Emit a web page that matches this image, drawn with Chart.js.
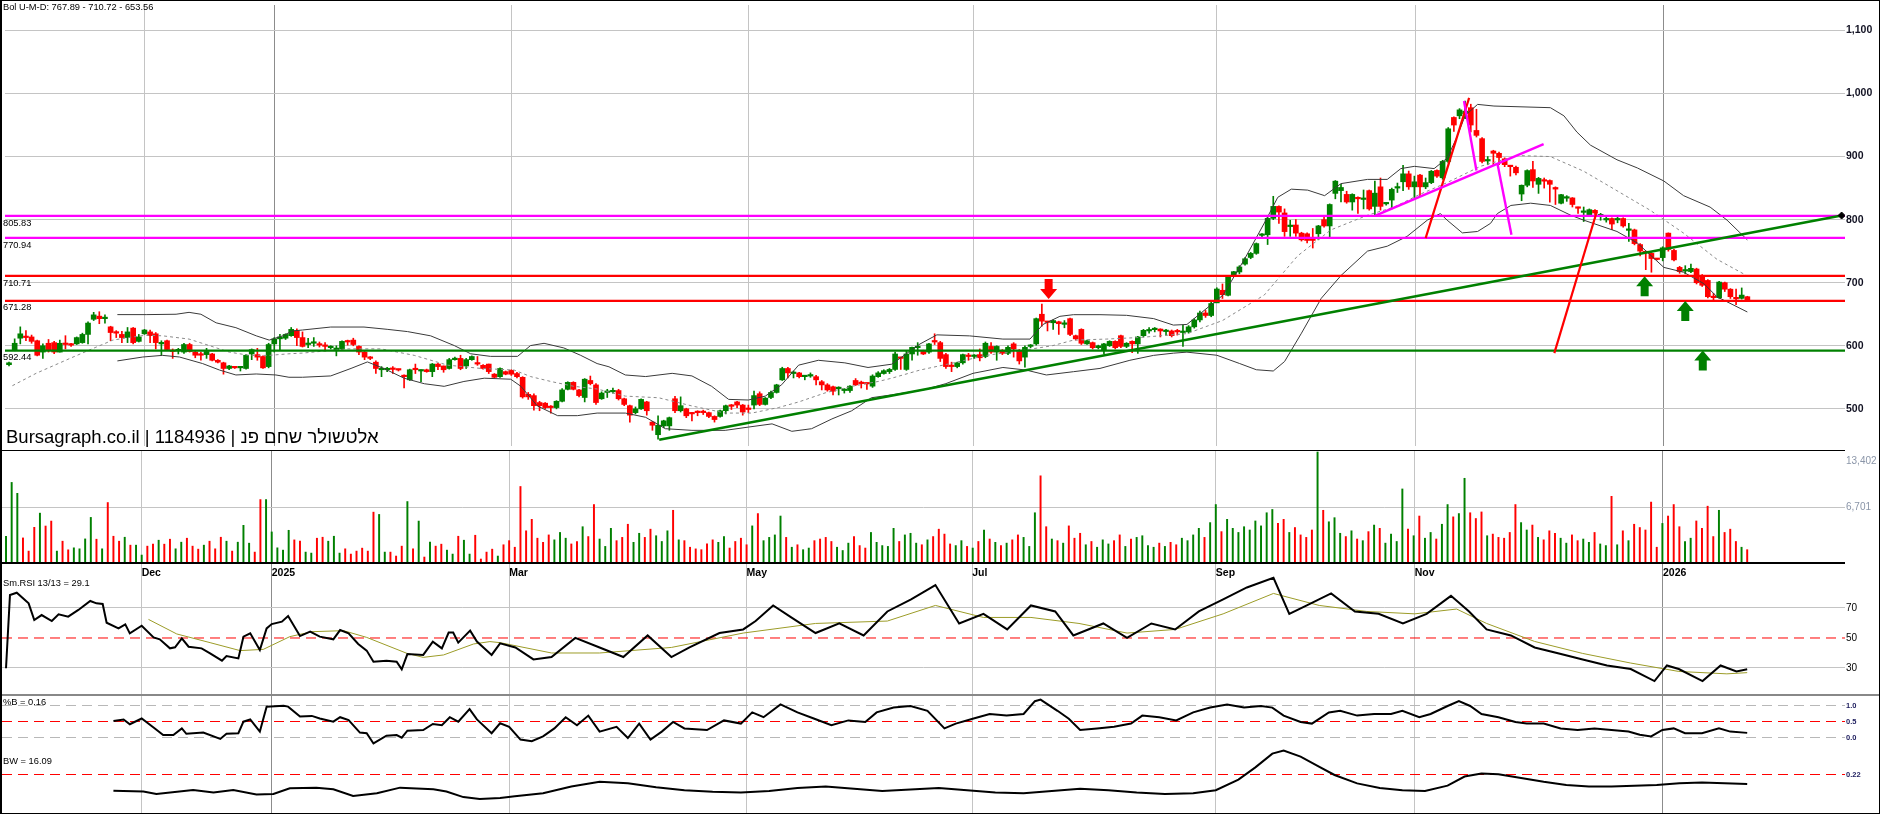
<!DOCTYPE html>
<html><head><meta charset="utf-8">
<script src="https://cdn.jsdelivr.net/npm/chart.js@4.4.1/dist/chart.umd.min.js"></script>
<style>
html,body{margin:0;padding:0;background:#fff;}
#wrap{position:relative;width:1880px;height:814px;overflow:hidden;background:#fff;}
#wrap canvas{position:absolute;left:0;}
.sep{position:absolute;left:0;}
#frame{position:absolute;left:0;top:0;width:1880px;height:814px;box-sizing:border-box;border:1px solid #000;border-left-width:2px;pointer-events:none;}
</style></head><body>
<div id="wrap">
<canvas id="cMain" width="1880" height="451" style="top:0"></canvas>
<canvas id="cVol" width="1880" height="111" style="top:451px"></canvas>
<canvas id="cRsi" width="1880" height="131" style="top:564px"></canvas>
<canvas id="cPB" width="1880" height="117" style="top:696px"></canvas>
<canvas id="cBW" width="1880" height="117" style="top:696px"></canvas>
<div class="sep" style="top:450px;width:1845px;height:1px;background:#000"></div>
<div class="sep" style="top:562px;width:1845px;height:2px;background:#000"></div>
<div class="sep" style="top:694px;width:1880px;height:2px;background:#888"></div>
<div id="frame"></div>
</div>
<script>
// ---------------- DATA ----------------
const OPEN = [
570,593,612,615,614,608,590,604,605,590,
604,603,603,605,618,642,647,643,630,622,
618,613,628,607,619,622,619,603,608,593,
592,590,602,590,587,586,587,577,573,564,
567,565,564,587,586,583,567,603,611,612,
616,624,613,602,604,603,600,597,594,595,
608,609,599,590,582,574,562,562,563.5,562.5,
552,546,563,560,562,559,571,568,564,578,
580,568,578,572,569,571,555,551,559,561,
556,550,523,521,510,509,503,502,512,531,
542,530,518,545,538,516,526,527,529,516,
505,494,500,511,479,459,473,473,516,497,
500,493,495,495,494,488,488,497,505,511,
506,500,506,524,507,518,526,546,564,556,
557,551,552,551,543,538,535,532,529,529,
545,542,540,536,551,556,559,562.5,581,562.5,
587,597,591,590,607,605,586,568,567,573,
584,583,586,583,599,590,592.5,588,603,592.5,
582,599,603,650,637.5,636.5,638,634,643,616,
626,603,605,597,593.5,600,607,616,599,607,
603,616,623.5,625.5,626.5,622.5,623.5,623,621,622,
630,641,652,648,668,688,680,711,717,729.5,
740,746.5,775,776,802,821,810.6,789,791.5,778.6,
777.6,768,777.6,800,790,841.6,846,840,828,834.4,
832,846,821,852,825,831,850,860,872.6,852,
870.6,852,858.7,878,866.4,892.3,962,964.6,968,977.5,
941.4,928.4,893,908.8,905.2,896.4,885,883,840.6,854.5,
879.3,856,862,862,851,826,834,834.4,819,811.5,
807,814.8,806,799.5,801.8,799.5,801.8,783,783.7,760.5,
748.5,746.5,737.7,739.8,778.6,751.2,724.3,718.5,717.6,721.7,
711.4,703.6,677.3,676.3,700,689.7,675.2,675.2,677.8];
const HIGH = [
574,611,630,624,617,609,603,610,607,609,
616,604,614,620,638,653,654,649,631,624,
623,629,629,618,626,625,621,608,609,595,
596,604,604,592,590,596,588,578,574,569,
567,567,586,595,596,584,604,613,618,619,
629,627,622,612,613,606,605,600,600,608,
609,612,600,591,583,576,567,566,567,563,
554,563,571,562,563,572,572,568,580,582,
585,580,584,583,570,571,556,565,560,562,
558,551,526,524,512,510,505,513,532,543,
543,531,548,552,540,527,531,533,531,517,
506,503,516,512,480,489,482,487,520,519,
501,494,497,498,495,489,498,506,507,512,
507,506,528,527,518,528,539,566,566,560,
558,553,557,553,545,540,536,535,532,537,
548,544,541,554,559,562,564,590,582,592,
598,605,593,604,619,607,588,574,574,587,
588,586,595,606,605,600,594,600,605,594,
600,602,644,666,638,641,639,640,644,617,
627,609,606,601,604,608,608,617,605,608,
615,626,629,629,627,626,625,626,633,632,
643,655,656,670,692,698,710,718,727,740,
748,763,778,805,837,822,817,799,800,780,
779,786,791,807,825,862,856,845,841,836,
847,847,861,866,827,850,858,886,877,869,
872,866,878,879,894,946,963,976,988,983,
975,930,900,910,907,898,886,885,855,879,
892.3,867,866,863,852,840,838,835,820,820,
817,816,810,804,803,804,803,794,785,762,
750,748,738,757,779,753,726,727,729.5,723,
713,705,683,702,701,690.7,690,691.7,678.5];
const LOW = [
568,592,603,608,604,584,580,590,587.5,590,
595,599,602,604,603,640,635,636,608,613,
605,605,603,606,618,605,595,585,593,580,
587,588,590,581,577,580,576,573,555,562,
564,560,563,578,577,564,565,590,593,610,
615,600,598,597,599,598,592,595,584,593,
601,600,586,578,578,556,551,559,556,560,
533,545,556,543,558,551,562,558,563,577,
562,564,577,569,563,556,549,550,554,553,
549,517,515,498,497,500,493,500,511,530,
530,519,511,538,507,515,518,525,514,505,
479,492,499,490,466,452,470,466,494,495,
486,481,489,491,486,479,487,492,499,502,
490,494,500,505,506,516,525,545,549,549,
549,546,550,538,530,528,522,522,525,526,
537,533,531,534,550,555,556,561,562.5,561,
577,585,586,588,602,575,564,559,565,571,
577,580,576,581,588,577,586,586,582,571,
566,597,601,631,623.5,626,618,628.5,616,609,
602,602,595,595,587,599,595,597,597,589,
588,614,620,622,614,617,614,617,599,620,
628,638,645,646,672,675,679,710,714,728,
738,745,770,760.5,800,794,773.4,773.4,773.4,766,
763,755,768,788,773,833,828,826,815,810,
817,815,805,815,823,817,843,846,848,835,
838,849,857,867,864,890,940,960,960,939,
931,890,887,887,887,884,869,871,830,852,
851,841.6,850,827.7,824,825,829,820,810,797,
806,802,799,796,784,795,788,765.6,760,742.4,
720.7,716.6,736,734.6,750,734.6,715,714,716,698,
694,676,672.6,675,686,675,665,674,672];
const CLOSE = [
573,604,619,613,607,585,600,593,590,604,
602,601,613,618,636,649,643,645,621,620,
613,622,605,614,625,616,605,604,594,591,
593,602,591,585,585,591,577,574,564,568,
565,566,585,594,582,565,602,611,614,618,
626,613,599,603,606,601,599,598,596,607,
606,602,590,582,580,564,563,563.5,562.5,561.5,
551,562,562,561,559,571,567,562,578,580,
564,578,583,571,564,559,550,564,555,555,
551,519,519,505,505,502,502,512,530,542,
531,521,547,540,510,525,527,529,516,507,
490,500,515,497,474,474,481,486,497,505,
489,492,494,494,488,483,497,505,504,506,
495,499,521,507,517,526,538,564,557,557,
551,552,554,546,538,530,528,533,530.5,536,
538,540,539.5,552,557,560.5,562.5,587,580,587,
597.5,598,587,603,606,580,567,567,573,586,
583,584.5,581,604,590,599,588,597.5,595,576,
597.5,601,643,639,637,640,635,635,618,611,
604,608,597,600,603,607,597,599,604,603,
614,624.5,624.5,626.5,623.5,623.5,616,622,622,630,
641,652,648,667,690,681,709,717.5,725,738,
746.5,762,776,802,821,812,781,790,778.6,768,
767,767,790,790,824,861,851,828,840,833,
833,817,842,821,826,848,851,872.6,852,860,
852,858.7,876.7,869,892.3,944,950,974,972,950,
933.6,892.3,894,905.2,898.5,887.1,884,874.2,854.5,877.8,
861.3,865.4,861,856,848.4,839.6,835,824,818,812.5,
815.8,810.6,807,800.3,793,800.5,790,784,762,750.1,
747.5,738.3,736.8,755.3,752.7,736.2,717.6,719.5,722.8,700,
695.9,677.8,676.3,701,689.7,677.8,674.4,680.4,672.6];
const VOLUME = [
3139,9695,8368,2934,1328,4226,5953,4383,4987,1328,
2535,1485,1727,1606,2813,5433,2777,1606,7244,3139,
2535,3018,2053,2053,845,1932,2173,2656,2173,2777,
1606,2415,2898,1932,1566,2053,2535,1606,3018,2535,
1328,2415,4467,2294,1207,7606,7606,3663,1727,1447,
3864,2695,2535,1207,1086,2898,3018,2535,3139,1086,
1606,965,1328,1690,1328,6074,5795,1207,1207,724,
1932,7365,1606,4987,604,2415,1932,2173,1447,965,
3139,2656,965,3260,362,1207,1566,724,2100,2600,
1800,9200,3800,5200,2900,2400,3300,2700,3600,2900,
2200,2500,4300,3100,7000,2800,1900,4100,2600,3000,
4600,2400,3500,3000,4000,3200,2500,3800,6300,2700,
2600,1800,1600,1500,2200,2700,2400,3100,1700,2500,
2900,2100,4400,5900,2600,3000,3300,5600,3000,1800,
2100,1500,1700,2600,2800,3000,2500,1800,1400,2300,
3100,2000,1700,3600,2400,2000,1900,4100,2500,3300,
3500,2300,2100,2700,3100,4000,3400,2200,2000,2600,
1900,1700,2500,3900,2800,2400,2000,2300,2700,3300,
3000,1900,6000,10500,4300,2800,2600,2300,4400,2900,
3500,2100,2500,1800,2700,2200,2600,3300,1900,2800,
3000,3200,2000,1800,2300,1900,2400,2100,2900,2600,
3300,4100,3000,4800,7000,3700,5200,4100,3600,4300,
3900,5000,4400,6000,6400,4700,5200,3600,4200,3300,
3000,3900,13402,6300,4900,5400,3500,3100,3800,2800,
2600,3700,4500,4100,2300,3400,2500,8900,4000,3200,
5600,2900,3600,2800,4600,7000,5500,5900,10200,6000,
5300,6100,3200,3400,3000,2900,3600,7000,4800,3900,
4500,3000,2700,3800,3500,2900,2300,3300,2600,2800,
2400,3600,2200,2000,8000,2100,3800,2600,4600,4200,
3900,7300,1800,4700,5600,7000,4300,2500,2900,5000,
4100,6800,3100,6300,3600,4000,2500,1800,1500];

// Bollinger bands [candle index, value]
const BB_UPPER = [[19.2,649.4],[24.3,649.4],[29.6,650],[31.9,653],[34,650],[36.7,636.4],[40.2,628.7],[43.8,615.8],[46.1,609],[48.5,615.8],[50.2,623.5],[52,625],[57,629.7],[62.9,629.7],[67,626.1],[70.6,622.5],[74.7,615.8],[78.9,600.3],[81.8,587.3],[85.3,583.2],[90.1,583.2],[92.4,600.3],[94.8,603.9],[98.3,596.6],[101.3,584.8],[104.2,571.8],[106.3,566.7],[109.2,553.7],[112.8,551.2],[117.5,556.3],[121,552.2],[124.5,535.7],[127.5,515],[131,514],[134,520.2],[136.9,538.2],[139.9,569.3],[143.4,577],[148.1,572.9],[152.2,565.6],[156.4,570.8],[161.4,602.8],[164.4,617.3],[170.2,615.7],[176.1,610.6],[180.9,610.6],[183.2,633.8],[186.2,646.7],[188.6,649.3],[193.3,649.3],[198,648.3],[202.8,643.1],[206.3,632.8],[208.7,633.8],[215.1,680.4],[218.9,737.2],[222.7,799.2],[224.8,835.4],[227.2,848.3],[230.1,846.8],[233.1,838],[236,857.1],[240.7,863.8],[244.2,863.8],[246.6,880.9],[249,884.5],[252.5,880.9],[254.8,897.4],[256.5,930],[258,965],[260.2,982.7],[263.1,980.1],[273.1,977.5],[275.5,964.6],[277.8,938.8],[280.2,918.1],[284.9,894.9],[288.5,882],[293.2,861.3],[296.7,838],[301.4,819.9],[304.4,799.2],[308,767.89]];
const BB_LOWER = [[19.2,576],[23.7,582.2],[27.2,584.8],[30.2,582.2],[34.3,571.8],[37.3,561.5],[40.2,553.7],[43.8,555.3],[47.3,553.7],[49.6,550.1],[52,550.1],[57,552.2],[60.6,564.1],[63.5,574.4],[66.4,564.1],[70,548.6],[73.6,539.8],[77.1,535.7],[80.6,543.4],[84.2,548.6],[88.9,547],[90.7,535.7],[93.6,504.7],[97.2,489.2],[100.7,489.2],[104.2,493.3],[109.2,493.3],[112.8,486.6],[116.3,468.5],[121,465.9],[126.9,465.9],[131,471.1],[135.2,476.2],[138.7,464.4],[142.2,468.5],[145.8,484],[149.3,496.9],[152.8,517.6],[156.4,522.2],[162,530],[166,540],[170.8,556.3],[176.1,565.6],[180.2,561.5],[183.8,553.7],[188.6,558.9],[193.3,564.1],[198.6,577],[202.8,584.8],[206.3,588.3],[208.7,589.9],[214,585],[218,572],[221,562],[224,560],[226,575],[229,620],[232.5,675.2],[236,711.4],[240.7,750.1],[244.2,757.9],[247.7,773.4],[251.3,799.2],[253.6,809.6],[254.8,799.2],[257.5,779],[260.2,781.2],[262.5,794.1],[263.7,809.6],[266.1,822.5],[269.6,826.1],[273.1,822.5],[276.7,807],[279,799.2],[284.9,781.2],[288.5,763],[293.2,724.3],[296.7,716.6],[300.3,698.5],[302.6,677.8],[308,653.56]];
const BB_MID = [[0.6,536.7],[4.8,556.3],[10.7,579.6],[15.4,597.7],[18.4,609],[21.3,613.2],[24.3,616.8],[27.2,615.8],[31.9,610.6],[35.5,600.3],[39,590],[42.6,584.8],[46.1,584.8],[49.6,587.3],[52,588.4],[60,595.1],[65.9,595.1],[71.8,584.8],[77.7,569.3],[83.6,564.1],[89.5,561.5],[92.4,551.2],[96,543.4],[100.1,535.7],[104.2,531.5],[109.2,520.2],[115.1,517.6],[121,504.6],[126.9,493.3],[131.6,493.3],[136.3,502],[139.9,510.9],[144.6,525.3],[149.3,535.7],[154,543.4],[156.4,548.6],[161.4,561.5],[167.3,572.8],[173.2,584.8],[180.2,593.5],[184.9,600.2],[188.6,609],[194.4,610.6],[200.4,613.2],[208.7,619.3],[215,640],[222.4,680.4],[228.3,742.4],[234.2,783.7],[240.7,807],[245.4,819.9],[250.1,840.6],[254.8,858.7],[260.7,884.5],[267.3,901.6],[273.1,900],[279,876.8],[284.9,845.8],[290.8,814.8],[296.7,778.6],[302.6,737.2],[308,710.72]];

const LEVELS = [805.83, 770.94, 710.71, 671.28, 592.44];
const TREND_GREEN = [[115.2,451],[324.7,806.5]];
const TREND_MAGENTA = [[[242.2,806.9],[271.9,919.7]],[[257.8,988],[260.0,877.8]],[[263.7,889.7],[266.2,776]]];
const TREND_RED = [[[251.0,770.8],[258.7,993]],[[273.8,588.4],[281.3,812.1]]];
const ARROWS_DOWN = [[184.2,674]];
const ARROWS_UP = [[289.8,710.4],[297.0,671.0],[300.1,592.6]];

const RSI = [[0,29.8],[0.7,78.7],[1.9,80.2],[4,73.1],[5,62],[6.3,65.3],[8.1,61.3],[9.3,65.8],[11,64.2],[12.8,68.7],[14.9,74.7],[16,73.1],[17.1,72.7],[17.8,60.2],[19.9,56.4],[21.1,59.1],[21.9,53.1],[24,58.2],[26.1,50.4],[27.2,49.1],[29,43.1],[29.9,43.8],[31.1,49.8],[32.3,44.2],[34.6,43.1],[36.1,39.8],[38.2,34.9],[39,38],[41.1,36.4],[42,50.9],[43.2,53.1],[44.9,42],[46.1,56.4],[47,59.3],[48.8,60.9],[49.9,64.7],[52,51.3],[53.8,54.2],[55.5,50.9],[57.9,49.1],[59.1,55.3],[60.6,53.1],[62.3,46],[63.8,41.6],[65,34.2],[67.3,34.9],[69.1,34.2],[70,29.1],[71,39.3],[73.8,38.7],[75.5,47.6],[77.1,43.1],[78.3,53.6],[79.1,53.6],[80,46.9],[82.1,54.9],[83.3,47.6],[85.9,38.7],[87.4,46.4],[90.1,43.7],[93.3,35.7],[96.5,37.3],[100.7,50.1],[105,43.7],[109.2,37.3],[113.5,51.7],[117.7,37.3],[120.9,43.7],[126.2,53.3],[130.4,55.7],[132.6,61.3],[135.7,71.7],[138.9,63.7],[143.2,53.3],[147.4,59.7],[151.7,51.7],[155.9,67.7],[160.1,75.7],[164.4,85.3],[168.6,59.7],[172.9,66.1],[177.1,55.7],[181.3,71.7],[185.6,67.7],[188.8,51.7],[194.1,59.7],[198.3,50.1],[202.6,59.7],[206.8,55.7],[211,67.7],[215.3,75.7],[219.5,83.7],[224.2,90.1],[227,66.1],[230.1,71.7],[234.4,79.7],[238.6,67.7],[242.8,66.1],[247.1,59.7],[251.3,66.1],[255.6,78.1],[258.8,67.7],[261.9,55.7],[266.2,51.7],[270.4,43.7],[274.7,39.7],[278.9,35.7],[283.2,31.7],[287.4,29.3],[291.6,21.3],[293.8,31.7],[295.9,29.3],[300.1,21.3],[303.3,31.7],[306.1,27.7],[308,29.1]];
const RSI_SIGNAL = [[25.2,62.4],[30.2,52.7],[36.1,46.9],[41.4,41.6],[45.5,42.4],[50.2,50.9],[54.1,54.2],[59.7,54.9],[63.8,50.4],[70.9,39.8],[73.8,37.1],[77.4,38.7],[82.7,46],[85.6,47.6],[87.4,46.9],[96.5,40],[105,40],[117.7,43.7],[130.4,53.3],[143.2,59.7],[155.9,61.3],[164.4,71.7],[172.9,63.7],[181.3,63.7],[189.8,59.7],[198.3,53.3],[206.8,55.7],[215.3,66.1],[224.2,79.7],[232.3,71.7],[240.7,67.7],[249.2,66.1],[256.6,69.3],[261.9,59.7],[270.4,47.7],[278.9,39.7],[287.4,33.3],[295.9,27.7],[304.4,26.1],[308,26.9]];
const PCT_B = [[19,0.53],[20.8,0.58],[21.9,0.43],[24,0.61],[26.1,0.33],[27.8,0.09],[29.6,0.09],[31.1,0.3],[31.9,0.13],[34.9,0.17],[37.9,-0.03],[39,0.13],[41.1,0.15],[42,0.51],[43.2,0.58],[44.9,0.2],[46.1,0.98],[49.1,1.01],[49.9,0.98],[52,0.67],[54.1,0.69],[55.5,0.61],[57.9,0.51],[59.1,0.65],[60.6,0.56],[62.6,0.17],[63.8,0.15],[65,-0.17],[67.3,0.07],[69.1,0.09],[70,0.01],[71,0.23],[73.8,0.25],[75.5,0.44],[77.1,0.4],[78.5,0.65],[80,0.51],[82,0.9],[83.3,0.58],[85.9,0.15],[87.4,0.46],[89,0.35],[91,-0.05],[93,-0.1],[95,0.05],[97,0.3],[99,0.65],[101,0.4],[103,0.7],[105,0.2],[108,0.35],[110,0],[112,0.45],[114,-0.05],[116,0.2],[118,0.5],[120,0.3],[124,0.25],[127,0.55],[130,0.45],[132,0.8],[134,0.65],[137,1.05],[140,0.8],[143,0.6],[146,0.4],[149,0.55],[152,0.5],[154,0.8],[157,0.95],[160,1],[163,0.85],[166,0.3],[168,0.45],[171,0.6],[174,0.75],[177,0.7],[180,0.75],[182,1.15],[183,1.2],[186,0.85],[188,0.6],[190,0.25],[193,0.3],[196,0.35],[199,0.45],[201,0.7],[204,0.65],[207,0.55],[210,0.8],[213,0.95],[216,1.05],[219,0.95],[222,1],[224,0.95],[226,0.7],[229,0.5],[231,0.45],[234,0.8],[236,0.85],[239,0.7],[242,0.75],[245,0.75],[247,0.85],[250,0.65],[252,0.75],[255,1],[257,1.15],[259,1],[261,0.75],[264,0.65],[267,0.5],[269,0.45],[272,0.45],[275,0.3],[278,0.25],[281,0.3],[284,0.25],[287,0.2],[289,0.1],[291,0.05],[293,0.25],[295,0.3],[297,0.15],[300,0.15],[303,0.3],[305,0.2],[308,0.16]];
const BAND_WIDTH = [[19,11.7],[24.3,11.2],[26.6,9.6],[33.1,12.2],[36.7,10.5],[40.2,12.2],[44.3,9.2],[47.3,9.6],[50.2,13.3],[54.9,13.7],[57.9,12.6],[61.4,8.3],[65.6,10],[69.7,13.7],[75.6,12.6],[77.9,11.2],[80.9,7.5],[83.8,6.2],[87.4,6.9],[90,8],[95,10],[100,14.5],[105,17.5],[110,16.5],[115,14],[120,12],[125,11],[130,10.5],[135,11.5],[140,13.5],[145,14.5],[150,13],[155,11.5],[160,12.5],[165,13.5],[170,12],[175,10.5],[180,10],[185,11.5],[190,13],[195,12],[200,10.5],[205,9.5],[210,10],[214,12],[218,19],[221,27],[224,36],[226,38],[229,34],[232,28],[235,22],[239,16.5],[243,13.5],[247,12],[251,11.5],[255,15],[258,21],[261,23],[264,22.5],[268,20],[272,17.5],[276,15.5],[280,14.5],[284,14.5],[288,15],[292,15.5],[296,16.5],[300,17],[304,16.5],[308,16.09]];

const MONTH_IDX = [24, 47, 89, 131, 170.9, 214, 249.2, 293.1];
const MONTH_LABELS = ['Dec','2025','Mar','May','Jul','Sep','Nov','2026'];
const YEAR_IDX = [47, 293.1];
const PRICE_TICKS = [500,600,700,800,900,1000,1100];
const VOL_TICKS = [6701];
const VOL_MAX_LABEL = 13402;
const RSI_TICKS = [30,50,70];
const PB_TICKS = [0,0.5,1];
const BW_TICKS = [22];
const BW_TICK_LABELS = {22:'0.22'};
const TITLE = 'Bursagraph.co.il | 1184936 | אלטשולר שחם פנ';
const BOL_TEXT = 'Bol U-M-D: 767.89 - 710.72 - 653.56';
const RSI_TEXT = 'Sm.RSI 13/13 = 29.1';
const PB_TEXT = '%B = 0.16';
const BW_TEXT = 'BW = 16.09';

// ---------------- STYLE ----------------
const FONT = '"Liberation Sans", Arial, sans-serif';
const GREEN = '#008000', RED = '#ff0000', MAGENTA = '#ff00ff';
const LEVEL_COLORS = [MAGENTA, MAGENTA, RED, RED, GREEN];
const X_MIN = -0.71, X_MAX = 325.3;
Chart.defaults.font.family = FONT;

const idx = OPEN.map((_, i) => i);
const candleColor = idx.map(i => CLOSE[i] >= OPEN[i] ? GREEN : RED);
const pts = arr => arr.map(([x, y]) => ({x, y}));

function xAxis(showGrid) {
  return {
    type: 'linear', min: X_MIN, max: X_MAX, offset: false,
    ticks: {display: false}, border: {display: false},
    grid: {display: showGrid, offset: false, drawTicks: false, lineWidth: 1,
      color: c => (c.tick && YEAR_IDX.includes(c.tick.value)) ? '#8c8c8c' : '#c4c4c4'},
    afterBuildTicks: s => { s.ticks = MONTH_IDX.map(v => ({value: v})); },
    afterFit: s => { s.height = 0; s.paddingLeft = 0; s.paddingRight = 0; }
  };
}
function yAxis(min, max, tickVals, fmt, font, color, gridColor, dash) {
  return {
    position: 'right', min, max,
    afterBuildTicks: s => { s.ticks = tickVals.map(v => ({value: v})); },
    ticks: {callback: fmt, font, color, padding: 1, autoSkip: false},
    grid: {drawTicks: false, color: gridColor, lineWidth: 1},
    border: {display: false, dash: dash || []},
    afterFit: s => { s.width = 35; s.paddingTop = 0; s.paddingBottom = 0; }
  };
}
const baseOpts = {
  responsive: false, animation: false, events: [], devicePixelRatio: 1,
  layout: {padding: {left: 2, right: 0, top: 0, bottom: 0}},
  plugins: {legend: {display: false}, tooltip: {enabled: false}}
};
function lineDs(data, color, width, order, dash) {
  return {type: 'line', data, borderColor: color, borderWidth: width, pointRadius: 0,
    fill: false, tension: 0, order, borderDash: dash || [], spanGaps: true};
}
function hLine(v) { return [{x: X_MIN, y: v}, {x: X_MAX, y: v}]; }

function drawArrow(ctx, cx, ty, color, up) {
  const s = up ? 1 : -1;
  ctx.fillStyle = color;
  ctx.beginPath();
  ctx.moveTo(cx, ty);
  ctx.lineTo(cx + 8.5, ty + s * 10);
  ctx.lineTo(cx + 4, ty + s * 10);
  ctx.lineTo(cx + 4, ty + s * 20);
  ctx.lineTo(cx - 4, ty + s * 20);
  ctx.lineTo(cx - 4, ty + s * 10);
  ctx.lineTo(cx - 8.5, ty + s * 10);
  ctx.closePath();
  ctx.fill();
}

// ---------------- MAIN PRICE CHART ----------------
const mainDatasets = [
  {type: 'bar', data: idx.map(i => ({x: i, y: [LOW[i], HIGH[i]]})), backgroundColor: candleColor,
   barThickness: 1, maxBarThickness: 1, grouped: false, order: 10},
  {type: 'bar', data: idx.map(i => ({x: i, y: [OPEN[i], CLOSE[i]]})), backgroundColor: candleColor,
   barThickness: 5, maxBarThickness: 5, minBarLength: 1.5, grouped: false, order: 9},
  lineDs(pts(BB_UPPER), '#3a3a3a', 1, 8),
  lineDs(pts(BB_LOWER), '#3a3a3a', 1, 8),
  lineDs(pts(BB_MID), '#8a8a8a', 1, 8, [3, 3]),
];
LEVELS.forEach((v, k) => mainDatasets.push(lineDs(hLine(v), LEVEL_COLORS[k], 2.2, 3)));
mainDatasets.push(lineDs(pts(TREND_GREEN), GREEN, 2.6, 2));
TREND_MAGENTA.forEach(seg => mainDatasets.push(lineDs(pts(seg), MAGENTA, 2.4, 1)));
TREND_RED.forEach(seg => mainDatasets.push(lineDs(pts(seg), RED, 2.2, 1)));
mainDatasets.push({type: 'line', data: pts([TREND_GREEN[1]]), showLine: false, pointStyle: 'rectRot',
  pointRadius: 3.5, pointBackgroundColor: '#000', pointBorderColor: '#000', order: 0});

const mainPlugin = {
  id: 'mainText',
  afterDatasetsDraw(chart) {
    const {ctx, scales: {x, y}} = chart;
    ctx.save();
    ARROWS_DOWN.forEach(([a, t]) => drawArrow(ctx, x.getPixelForValue(a), y.getPixelForValue(t), RED, false));
    ARROWS_UP.forEach(([a, t]) => drawArrow(ctx, x.getPixelForValue(a), y.getPixelForValue(t), GREEN, true));
    ctx.restore();
  },
  afterDraw(chart) {
    const {ctx, scales: {y}} = chart;
    ctx.save();
    ctx.fillStyle = '#000';
    ctx.font = '9.3px ' + FONT;
    ctx.textBaseline = 'middle';
    ctx.fillText(BOL_TEXT, 3, 7);
    LEVELS.forEach(v => ctx.fillText(v.toFixed(2), 3, y.getPixelForValue(v) + 7));
    ctx.font = '18.5px ' + FONT;
    ctx.textBaseline = 'alphabetic';
    ctx.fillText(TITLE, 6, 443);
    ctx.restore();
  }
};

new Chart(document.getElementById('cMain'), {
  type: 'bar',
  data: {datasets: mainDatasets},
  options: Object.assign({}, baseOpts, {
    scales: {
      x: xAxis(true),
      y: yAxis(441.1, 1140.3, PRICE_TICKS, v => v.toLocaleString('en-US'),
        {size: 10.5, weight: 'bold', family: FONT}, '#111122', '#c4c4c4')
    }
  }),
  plugins: [mainPlugin]
});

// ---------------- VOLUME ----------------
new Chart(document.getElementById('cVol'), {
  type: 'bar',
  data: {datasets: [{data: idx.map(i => ({x: i, y: VOLUME[i]})), backgroundColor: candleColor,
    barThickness: 1.3, maxBarThickness: 1.3, grouped: false}]},
  options: Object.assign({}, baseOpts, {
    scales: {
      x: xAxis(true),
      y: yAxis(0, 13524, VOL_TICKS, v => v.toLocaleString('en-US'),
        {size: 10, family: FONT}, '#8a95a8', '#c4c4c4')
    }
  }),
  plugins: [{
    id: 'volText',
    afterDraw(chart) {
      const ctx = chart.ctx;
      ctx.save();
      ctx.fillStyle = '#8a95a8';
      ctx.font = '10px ' + FONT;
      ctx.textBaseline = 'middle';
      ctx.fillText(VOL_MAX_LABEL.toLocaleString('en-US'), chart.chartArea.right + 1, 10);
      ctx.restore();
    }
  }]
});

// ---------------- RSI ----------------
new Chart(document.getElementById('cRsi'), {
  type: 'line',
  data: {datasets: [
    lineDs(hLine(50), RED, 1, 5, [10, 6]),
    lineDs(pts(RSI_SIGNAL), '#9c9c28', 1, 2),
    lineDs(pts(RSI), '#000', 2, 1)
  ]},
  options: Object.assign({}, baseOpts, {
    scales: {
      x: xAxis(true),
      y: yAxis(12, 99.33, RSI_TICKS, v => String(v), {size: 10, family: FONT}, '#000',
        c => (c.tick && c.tick.value === 50) ? 'rgba(0,0,0,0)' : '#c4c4c4')
    }
  }),
  plugins: [{
    id: 'rsiText',
    afterDraw(chart) {
      const {ctx, scales: {x}} = chart;
      ctx.save();
      ctx.fillStyle = '#000';
      ctx.font = 'bold 10.5px ' + FONT;
      ctx.textBaseline = 'alphabetic';
      MONTH_IDX.forEach((m, k) => ctx.fillText(MONTH_LABELS[k], x.getPixelForValue(m), 12));
      ctx.font = '9.3px ' + FONT;
      ctx.textBaseline = 'middle';
      ctx.fillText(RSI_TEXT, 3, 19);
      ctx.restore();
    }
  }]
});

// ---------------- %B ----------------
new Chart(document.getElementById('cPB'), {
  type: 'line',
  data: {datasets: [lineDs(pts(PCT_B), '#000', 2, 1)]},
  options: Object.assign({}, baseOpts, {
    scales: {
      x: xAxis(true),
      y: yAxis(-2.344, 1.3125, PB_TICKS, v => v.toFixed(1), {size: 7.5, weight: 'bold', family: FONT}, '#202060',
        c => (c.tick && c.tick.value === 0.5) ? RED : '#b8b8b8', [10, 6])
    }
  }),
  plugins: [{
    id: 'pbText',
    afterDraw(chart) {
      const ctx = chart.ctx;
      ctx.save();
      ctx.fillStyle = '#000';
      ctx.font = '9.3px ' + FONT;
      ctx.textBaseline = 'middle';
      ctx.fillText(PB_TEXT, 3, 6);
      ctx.fillText(BW_TEXT, 3, 65);
      ctx.restore();
    }
  }]
});

// ---------------- BAND WIDTH ----------------
new Chart(document.getElementById('cBW'), {
  type: 'line',
  data: {datasets: [lineDs(pts(BAND_WIDTH), '#000', 2, 1)]},
  options: Object.assign({}, baseOpts, {
    scales: {
      x: xAxis(false),
      y: yAxis(-2.93, 73.79, BW_TICKS, v => BW_TICK_LABELS[v] || '', {size: 7.5, weight: 'bold', family: FONT}, '#202060',
        RED, [10, 6])
    }
  })
});
</script>
</body></html>
